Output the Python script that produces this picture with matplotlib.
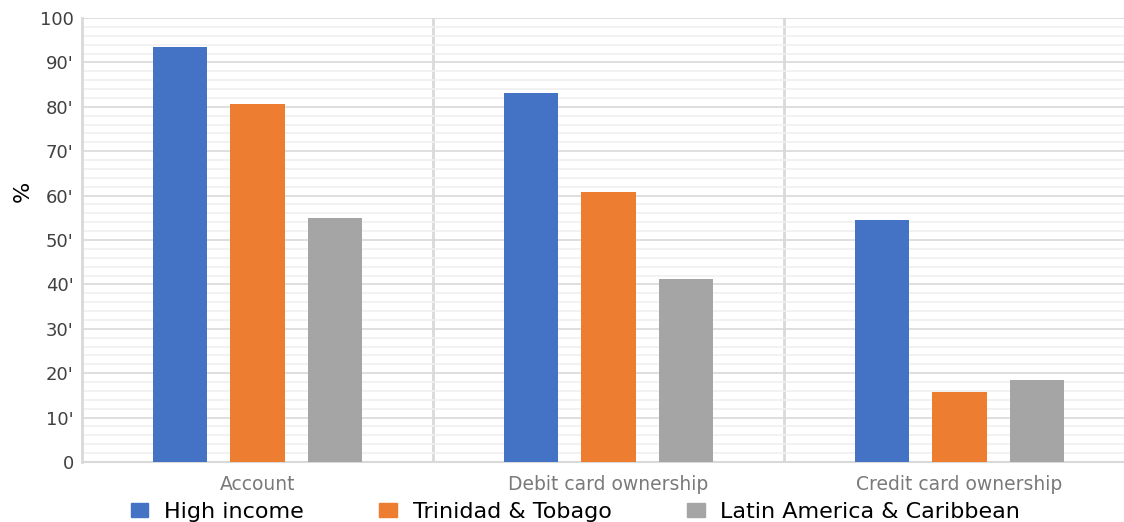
import numpy as np
import matplotlib.pyplot as plt
from matplotlib.patches import Patch

plt.rcParams["font.family"] = ["DejaVu Sans"]

categories = ["Account", "Debit card ownership", "Credit card ownership"]
series_names = ["High income", "Trinidad & Tobago", "Latin America & Caribbean"]
high_income = [93.5, 83.1, 54.6]
trinidad = [80.6, 60.7, 15.8]
latam = [55.0, 41.3, 18.5]
y_ticks = [0, 10, 20, 30, 40, 50, 60, 70, 80, 90, 100]
y_tick_labels = ["0", "10'", "20'", "30'", "40'", "50'", "60'", "70'", "80'", "90'", "100"]

colors = ["#4472C4", "#ED7D31", "#A5A5A5"]
grid_major = "#d9d9d9"
grid_minor = "#f0f0f0"

fig = plt.figure(figsize=(11.24, 5.22), dpi=100)
# axes runs a little past the right edge, as in the reference
ax = fig.add_axes([82 / 1124, 60 / 522, 1053 / 1124, 444 / 522])

x = np.arange(len(categories))
offset = 0.221
width = 0.154
for i, (vals, name) in enumerate(zip([high_income, trinidad, latam], series_names)):
    ax.bar(x + (i - 1) * offset, vals, width, color=colors[i], label=name, zorder=3)

ax.set_xlim(-0.5, 2.5)
ax.set_ylim(0, 100)
ax.set_yticks(y_ticks)
ax.set_yticklabels(y_tick_labels, fontsize=13, color="#404040")
ax.set_yticks(np.arange(0, 101, 2), minor=True)
ax.grid(True, which="major", axis="y", color=grid_major, linewidth=1.2, zorder=0)
ax.grid(True, which="minor", axis="y", color=grid_minor, linewidth=1.2, zorder=0)
ax.tick_params(axis="y", which="both", length=0, pad=6)

ax.set_xticks(x)
ax.set_xticklabels(categories, fontsize=13.5, color="#7a7a7a")
ax.tick_params(axis="x", length=0, pad=9)

for sep in [0.5, 1.5]:
    ax.axvline(sep, color=grid_major, linewidth=2, zorder=1)

for side in ["top", "right"]:
    ax.spines[side].set_visible(False)
ax.spines["left"].set_color(grid_major)
ax.spines["left"].set_linewidth(2)
ax.spines["bottom"].set_color(grid_major)
ax.spines["bottom"].set_linewidth(1.5)

ax.set_ylabel("%", fontsize=16, color="black")
ax.yaxis.set_label_coords(-0.047, 0.61)

handles = [Patch(color=c) for c in colors]
fig.legend(handles, series_names, loc="center", ncol=3, frameon=False,
           bbox_to_anchor=(0.512, 0.02), fontsize=16,
           handlelength=0.8, handleheight=0.6, handletextpad=0.7,
           columnspacing=3.4, borderpad=0.1)

fig.savefig("out.png", dpi=100)
